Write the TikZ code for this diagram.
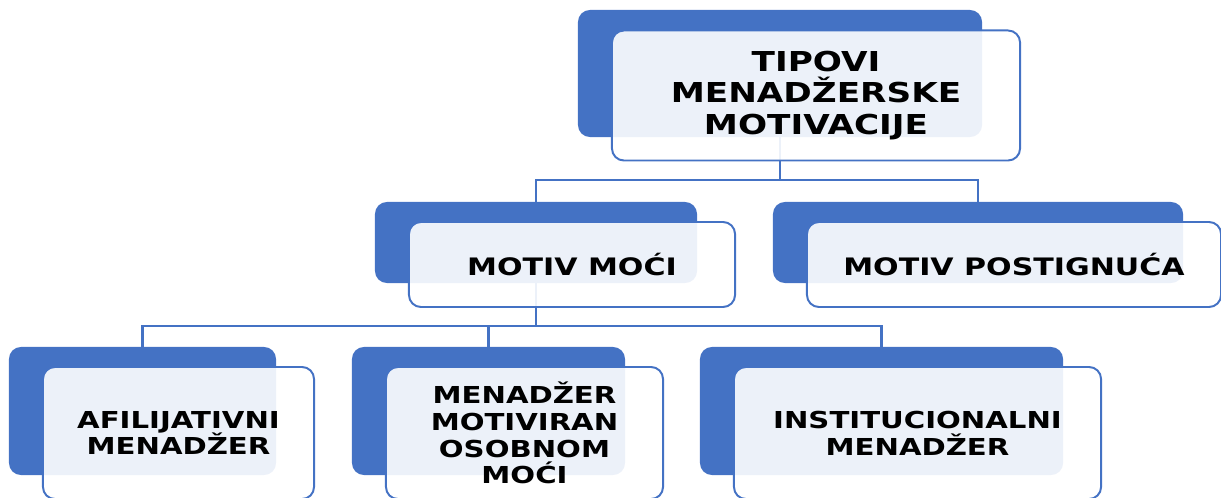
\documentclass[tikz,border=0pt]{standalone}
\usepackage{fontspec}
\newfontfamily\boxfont[FakeStretch=1.25]{DejaVu Sans}
\usepackage{tikz}
\usetikzlibrary{calc}
\definecolor{smartblue}{HTML}{4472C4}

\begin{document}
\begin{tikzpicture}[x=0.025cm,y=-0.025cm,
	back/.style 2 args={fill=smartblue,rounded corners=0.3cm,inner sep=0pt,
		minimum width=#1cm,minimum height=#2cm},
	front/.style 2 args={draw=smartblue,line width=1.4pt,fill=white,fill opacity=0.9,
		text opacity=1,rounded corners=0.3cm,inner sep=0pt,align=center,
		minimum width=#1cm,minimum height=#2cm},
	lvlone/.style={font=\boxfont\bfseries\fontsize{19.5}{22.6}\selectfont},
	lvltwo/.style={font=\boxfont\bfseries\fontsize{17.1}{20}\selectfont},
	lvlthree/.style={font=\boxfont\bfseries\fontsize{16.6}{19}\selectfont},
	link/.style={draw=smartblue,line width=1.8pt}]
	\useasboundingbox (0,0) rectangle (1221,498);
	
	% blue boxes behind
	\node[back={10.1}{3.175}] (tip) at (780,73.5) {};
	\node[back={8.05}{2.025}] (moc) at (536,242.5) {};
	\node[back={10.25}{2.025}] (post) at (978,242.5) {};
	\node[back={6.675}{3.2}] (afil) at (142.5,411) {};
	\node[back={6.825}{3.2}] (osob) at (488.5,411) {};
	\node[back={9.075}{3.2}] (inst) at (881.5,411) {};
	
	\coordinate (busA) at (780,180);
	\coordinate (busB) at (536,326);
	
	\draw[link] (tip.south) -- (busA) -| (moc.north);
	\draw[link] (busA) -| (post.north);
	\draw[link] (moc.south) -- (busB) -| (afil.north);
	\draw[link] (busB) -| (osob.north);
	\draw[link] (busB) -| (inst.north);
	
	% front boxes with the texts
	\node[front={10.2}{3.25},lvlone] (tipF) at ([shift={(36,22)}]tip.center)
		{TIPOVI\\MENADŽERSKE\\MOTIVACIJE};
	\node[front={8.15}{2.125},lvltwo] (mocF) at ([shift={(36,22)}]moc.center)
		{MOTIV MOĆI};
	\node[front={10.35}{2.125},lvltwo] (postF) at ([shift={(36,22)}]post.center)
		{MOTIV POSTIGNUĆA};
	\node[front={6.775}{3.3},lvlthree] (afilF) at ([shift={(36,22)}]afil.center)
		{AFILIJATIVNI\\MENADŽER};
	\node[front={6.925}{3.3},lvlthree] (osobF) at ([shift={(36,22)}]osob.center)
		{MENADŽER\\MOTIVIRAN\\OSOBNOM\\MOĆI};
	\node[front={9.175}{3.3},lvlthree] (instF) at ([shift={(36,22)}]inst.center)
		{INSTITUCIONALNI\\MENADŽER};
\end{tikzpicture}
\end{document}
